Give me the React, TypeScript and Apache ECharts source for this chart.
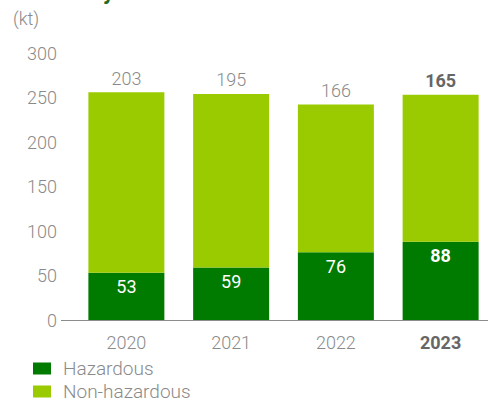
import React, { useEffect, useRef } from "react";
import * as echarts from "echarts";

const years = ["2020", "2021", "2022", "2023"];
const hazardous = [53, 59, 76, 88];
const nonHazardous = [203, 195, 166, 165];
const yTicks = { min: 0, max: 300, interval: 50 };
const unitLabel = "(kt)";
const seriesNames = ["Hazardous", "Non-hazardous"];

const DARK = "#007b00";
const LIGHT = "#9acb00";
const GRAY = "#8a8a8a";
const BOLDGRAY = "#666666";
const FONT = "Roboto, 'Noto Sans', sans-serif";

export default function App() {
  const ref = useRef<HTMLDivElement>(null);
  useEffect(() => {
    if (!ref.current) return;
    const chart = echarts.init(ref.current, undefined, { renderer: "svg" });
    const last = years.length - 1;
    const legendBase = {
      orient: "horizontal",
      left: 33,
      itemWidth: 18,
      itemHeight: 12,
      icon: "rect",
      padding: 0,
      textStyle: { color: GRAY, fontSize: 19, fontWeight: 300, fontFamily: FONT, padding: [0, 0, 0, 7] },
    };
    chart.setOption({
      animation: false,
      textStyle: { fontFamily: FONT },
      grid: { left: 74, width: 419, top: 53, bottom: 80, containLabel: false },
      legend: [
        { ...legendBase, top: 359, data: [seriesNames[0]] },
        { ...legendBase, top: 382, data: [seriesNames[1]] },
      ],
      xAxis: {
        type: "category",
        data: years,
        axisLine: { show: false },
        axisTick: { show: false },
        axisLabel: {
          margin: 13,
          fontSize: 18,
          fontFamily: FONT,
          formatter: (v: string) => (v === years[last] ? `{b|${v}}` : `{n|${v}}`),
          rich: {
            n: { color: GRAY, fontSize: 18, fontWeight: 300, fontFamily: FONT },
            b: { color: BOLDGRAY, fontSize: 18, fontWeight: "bold", fontFamily: FONT },
          },
        },
      },
      yAxis: {
        type: "value",
        min: yTicks.min,
        max: yTicks.max,
        interval: yTicks.interval,
        splitLine: { show: false },
        axisLine: { show: false },
        axisTick: { show: false },
        axisLabel: { color: GRAY, fontSize: 18, fontWeight: 300, fontFamily: FONT, margin: 17 },
      },
      graphic: [
        {
          type: "line",
          shape: { x1: 61, y1: 320.5, x2: 488, y2: 320.5 },
          style: { stroke: "#8c8c8c", lineWidth: 1.2 },
          z: 10,
        },
        {
          type: "text",
          x: 13,
          y: 18,
          style: { text: unitLabel, fill: GRAY, fontSize: 18, fontWeight: 300, fontFamily: FONT, verticalAlign: "middle" },
        },
        {
          type: "text",
          x: 103,
          y: 2,
          style: { text: "y", fill: "#1f6b1f", fontSize: 22, fontWeight: "bold", fontFamily: FONT, verticalAlign: "bottom" },
        },
      ],
      series: [
        {
          name: seriesNames[0],
          type: "bar",
          stack: "total",
          barWidth: 76,
          itemStyle: { color: DARK },
          data: hazardous.map((v, i) => ({
            value: v,
            label: i === last ? { fontWeight: "bold" } : {},
          })),
          label: {
            show: true,
            position: "insideTop",
            distance: 5,
            color: "#ffffff",
            fontSize: 18,
            fontFamily: FONT,
          },
        },
        {
          name: seriesNames[1],
          type: "bar",
          stack: "total",
          barWidth: 76,
          itemStyle: { color: LIGHT },
          data: nonHazardous.map((v, i) => ({
            value: v,
            label: i === last ? { fontWeight: "bold", color: BOLDGRAY } : {},
          })),
          label: {
            show: true,
            position: "top",
            distance: 5,
            color: GRAY,
            fontSize: 18,
            fontWeight: 300,
            fontFamily: FONT,
          },
        },
      ],
    });
    return () => chart.dispose();
  }, []);
  return (
    <div style={{ width: 488, height: 400, position: "absolute", left: 0, top: 0, overflow: "hidden" }}>
      <div ref={ref} style={{ width: 500, height: 400 }} />
    </div>
  );
}
